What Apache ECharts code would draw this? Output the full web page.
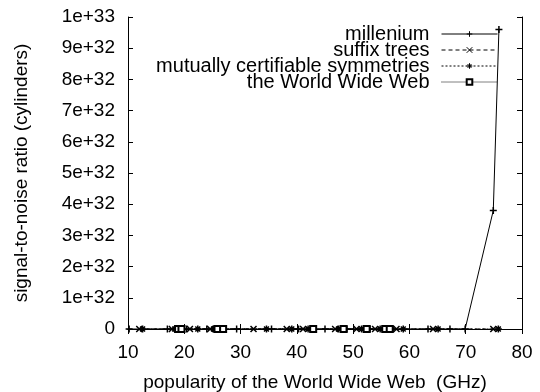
<!DOCTYPE html>
<html>
<head>
<meta charset="utf-8">
<script src="https://cdn.jsdelivr.net/npm/echarts@6/dist/echarts.min.js"></script>
<style>html,body{margin:0;padding:0;background:#fff;}#c{width:540px;height:392px;}</style>
</head>
<body>
<div id="c"></div>
<script>
// ---- data ----
var seriesNames = ['millenium', 'suffix trees', 'mutually certifiable symmetries', 'the World Wide Web'];
var milleniumX = [10.2, 17.0, 20.4, 24.0, 29.3, 35.5, 40.3, 45.0, 48.9, 53.0, 57.1, 63.3, 67.2, 69.9, 74.9, 75.9];
var milleniumY = [0, 0, 0, 0, 0, 0, 0, 0, 0, 0, 0, 0, 0, 0, 3.8e32, 9.6e32];
var suffixX = [12.0, 17.8, 21.0, 24.6, 32.3, 38.2, 41.1, 46.8, 50.6, 53.9, 57.7, 64.2, 74.9];
var suffixY = [0, 0, 0, 0, 0, 0, 0, 0, 0, 0, 0, 0, 0];
var mutualX = [12.6, 18.3, 22.4, 25.2, 34.6, 39.1, 42.0, 47.4, 51.5, 54.8, 58.9, 65.1, 75.8];
var mutualY = [0, 0, 0, 0, 0, 0, 0, 0, 0, 0, 0, 0, 0];
var wwwX = [18.9, 19.5, 25.9, 26.9, 42.9, 48.3, 52.4, 55.7, 56.5];
var wwwY = [0, 0, 0, 0, 0, 0, 0, 0, 0];
var xTickLabels = ['10', '20', '30', '40', '50', '60', '70', '80'];
var yTickLabels = ['0', '1e+32', '2e+32', '3e+32', '4e+32', '5e+32', '6e+32', '7e+32', '8e+32', '9e+32', '1e+33'];

function zip(xs, ys) { return xs.map(function (x, i) { return [x, ys[i]]; }); }

var FONT = 'Liberation Sans';
var SYM_PLUS = 'path://M0,5L10,5M5,0L5,10';
var SYM_X = 'path://M0,0L10,10M10,0L0,10';
var SYM_STAR = 'path://M0,5L10,5M5,0L5,10M1.5,1.5L8.5,8.5M8.5,1.5L1.5,8.5';

function mkSeries(name, data, symbol, dash, size) {
  return {
    name: name, type: 'line', data: data,
    symbol: symbol, symbolSize: size,
    xAxisIndex: 0, yAxisIndex: 0,
    lineStyle: { color: '#000', width: 1, type: dash },
    itemStyle: { color: '#000', borderColor: '#000', borderWidth: 1.5 },
    emphasis: { disabled: true },
    animation: false
  };
}

function mkLegend(name, top) {
  return {
    data: [name], right: 42, top: top, orient: 'vertical', align: 'right',
    itemWidth: 56, itemHeight: 7, padding: 0, selectedMode: false,
    lineStyle: { width: 1 },
    itemStyle: { borderWidth: 1 },
    textStyle: { fontFamily: FONT, fontSize: 20, color: '#000', padding: [0, 7, 0, 0] }
  };
}

var chart = echarts.init(document.getElementById('c'), null, { renderer: 'canvas' });
var tickStyle = { show: true, inside: true, length: 5, lineStyle: { color: '#000', width: 1 } };
var lineAx = { show: true, lineStyle: { color: '#000', width: 1 } };
chart.setOption({
  animation: false,
  backgroundColor: '#fff',
  grid: { left: 128, right: 18, top: 17, bottom: 63, containLabel: false, outerBoundsMode: 'none' },
  legend: [
    mkLegend(seriesNames[0], 24),
    mkLegend(seriesNames[1], 40),
    mkLegend(seriesNames[2], 56),
    mkLegend(seriesNames[3], 72)
  ],
  xAxis: [{
    type: 'value', min: 10, max: 80, interval: 10, position: 'bottom',
    name: 'popularity of the World Wide Web  (GHz)', nameLocation: 'middle', nameGap: 44,
    nameTextStyle: { fontFamily: FONT, fontSize: 19, color: '#000', padding: [0, 20, 0, 0] },
    axisLine: lineAx, axisTick: tickStyle, splitLine: { show: false },
    axisLabel: { fontFamily: FONT, fontSize: 19, color: '#000', margin: 14,
      formatter: function (v) { return xTickLabels[Math.round((v - 10) / 10)]; } }
  }, {
    type: 'value', min: 10, max: 80, interval: 10, position: 'top',
    axisLine: lineAx, axisTick: tickStyle, splitLine: { show: false }, axisLabel: { show: false }
  }],
  yAxis: [{
    type: 'value', min: 0, max: 1e33, interval: 1e32, position: 'left',
    name: 'signal-to-noise ratio (cylinders)', nameLocation: 'middle', nameGap: 97,
    nameTextStyle: { fontFamily: FONT, fontSize: 19, color: '#000' },
    axisLine: lineAx, axisTick: tickStyle, splitLine: { show: false },
    axisLabel: { fontFamily: FONT, fontSize: 19, color: '#000', margin: 13,
      formatter: function (v) { return yTickLabels[Math.round(v / 1e32)]; } }
  }, {
    type: 'value', min: 0, max: 1e33, interval: 1e32, position: 'right',
    axisLine: lineAx, axisTick: tickStyle, splitLine: { show: false }, axisLabel: { show: false }
  }],
  series: [
    mkSeries(seriesNames[0], zip(milleniumX, milleniumY), SYM_PLUS, 'solid', 7),
    mkSeries(seriesNames[1], zip(suffixX, suffixY), SYM_X, [4, 3], 6),
    mkSeries(seriesNames[2], zip(mutualX, mutualY), SYM_STAR, [2, 2], 7),
    mkSeries(seriesNames[3], zip(wwwX, wwwY), 'emptyRect', [1, 1], 6)
  ]
});
</script>
</body>
</html>
